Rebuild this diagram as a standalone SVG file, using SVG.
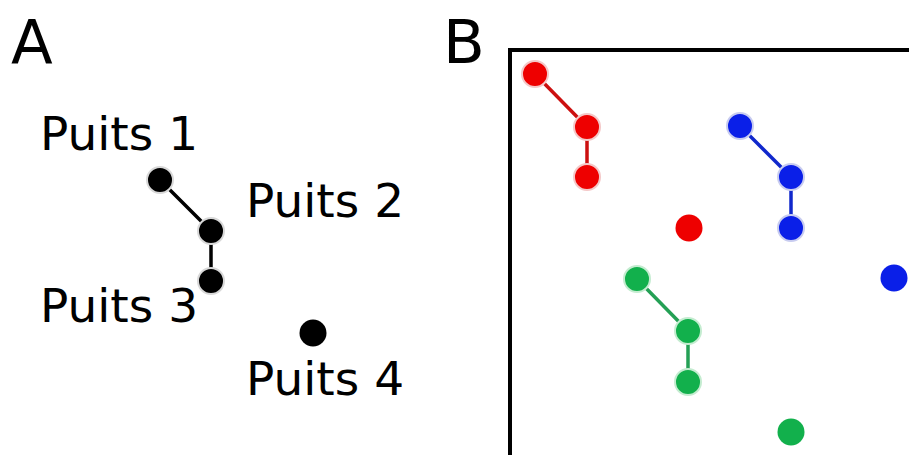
<svg xmlns="http://www.w3.org/2000/svg" width="909" height="455" viewBox="0 0 909 455">
<style>
text{font-family:"DejaVu Sans","Verdana",sans-serif;fill:#000}
.lbl{font-size:47px}
.big{font-size:61px}
.n{stroke-width:2}
.k{fill:#000;stroke:#d8d8d8}
.r{fill:#ee0000;stroke:#f4c8c8}
.b{fill:#0a1fe8;stroke:#c8ccf0}
.g{fill:#12b04c;stroke:#c4ecd0}
.e{stroke-width:3.5;fill:none}
</style>
<rect width="909" height="455" fill="#fff"/>
<text class="big" x="11" y="63">A</text>
<text class="big" x="443" y="63">B</text>
<path d="M510,455 V50 H909" fill="none" stroke="#000" stroke-width="4"/>
<g id="connectors">
<path class="e" stroke="#000" d="M160,180 L211,231 L211,281"/>
<path class="e" stroke="#cc1010" d="M535,74 L587,127 L587,177"/>
<path class="e" stroke="#1028cc" d="M740,126 L791,177 L791,228"/>
<path class="e" stroke="#24a055" d="M637,279 L688,331 L688,382"/>
</g>
<g id="puits1"><circle class="n k" cx="160" cy="180" r="13"/><text class="lbl" x="40" y="150">Puits 1</text></g>
<g id="puits2"><circle class="n k" cx="211" cy="231" r="13"/><text class="lbl" x="246" y="217">Puits 2</text></g>
<g id="puits3"><circle class="n k" cx="211" cy="281" r="13"/><text class="lbl" x="40" y="322">Puits 3</text></g>
<g id="puits4"><circle cx="313" cy="333" r="13.5" fill="#000"/><text class="lbl" x="246" y="395">Puits 4</text></g>
<g id="red1"><circle class="n r" cx="535" cy="74" r="13"/></g>
<g id="red2"><circle class="n r" cx="587" cy="127" r="13"/></g>
<g id="red3"><circle class="n r" cx="587" cy="177" r="13"/></g>
<g id="red4"><circle cx="689" cy="228" r="13.5" fill="#ee0000"/></g>
<g id="blue1"><circle class="n b" cx="740" cy="126" r="13"/></g>
<g id="blue2"><circle class="n b" cx="791" cy="177" r="13"/></g>
<g id="blue3"><circle class="n b" cx="791" cy="228" r="13"/></g>
<g id="blue4"><circle cx="894" cy="278" r="13.5" fill="#0a1fe8"/></g>
<g id="green1"><circle class="n g" cx="637" cy="279" r="13"/></g>
<g id="green2"><circle class="n g" cx="688" cy="331" r="13"/></g>
<g id="green3"><circle class="n g" cx="688" cy="382" r="13"/></g>
<g id="green4"><circle cx="791" cy="432" r="13.5" fill="#12b04c"/></g>
</svg>
